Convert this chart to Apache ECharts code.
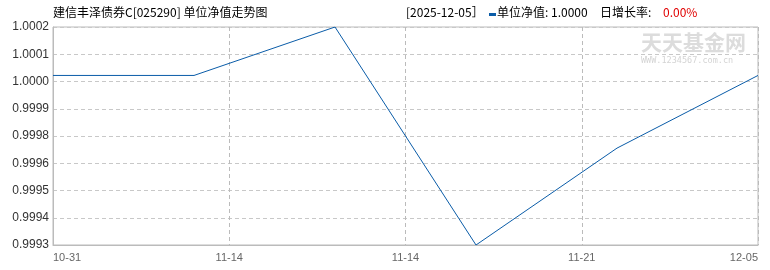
<!DOCTYPE html>
<html><head><meta charset="utf-8">
<script src="https://cdn.jsdelivr.net/npm/echarts@6/dist/echarts.min.js"></script>
<style>html,body{margin:0;padding:0;background:#fff}#c{width:770px;height:270px}</style>
</head><body><div id="c"></div>
<script>
const dates = ['10-31','11-07','11-14','11-21','11-28','12-05'];
const navValues = [1.0000, 1.0000, 1.0002, 0.9993, 0.9997, 1.0000];
const xTickLabels = ['10-31','11-14','11-14','11-21','12-05'];
const yMin = 0.9993, yMax = 1.0002, ySteps = 8;
const titleText = '建信丰泽债券C[025290] 单位净值走势图';
const legendDate = '[2025-12-05］';
const legendNav = '单位净值: 1.0000';
const legendRateLabel = '日增长率: ';
const legendRate = '0.00%';

const font = '"Noto Sans CJK SC", "Liberation Sans", sans-serif';
const chart = echarts.init(document.getElementById('c'), null, {renderer:'canvas'});
chart.setOption({
  animation:false,
  grid:{left:53, right:12, top:27, bottom:25, show:true, borderColor:'#bbb', borderWidth:1},
  graphic:[
    {type:'text', left:53, top:6, style:{text:titleText, font:'12px '+font, fill:'#000'}},
    {type:'text', left:406, top:6, style:{text:legendDate, font:'12px '+font, fill:'#000'}},
    {type:'rect', left:489, top:13, shape:{width:7, height:3}, style:{fill:'#0a5ca8'}},
    {type:'text', left:497, top:6, style:{text:legendNav, font:'12px '+font, fill:'#000'}},
    {type:'text', left:600, top:6, style:{text:legendRateLabel, font:'12px '+font, fill:'#000'}},
    {type:'text', left:663, top:6, style:{text:legendRate, font:'12px '+font, fill:'#e00000'}},
    {type:'text', left:641, top:32, style:{text:'天天基金网', font:'bold 21px '+font, fill:'#dcdcdc'}},
    {type:'text', left:641, top:56, style:{text:'WWW.1234567.com.cn', font:'8.5px "DejaVu Sans Mono", monospace', fill:'#d4d4d4'}}
  ],
  xAxis:[
    {type:'category', data:dates, boundaryGap:false, position:'top',
     axisLine:{show:false}, axisTick:{show:false}, axisLabel:{show:false}, splitLine:{show:false}},
    {type:'category', data:xTickLabels, boundaryGap:false, position:'bottom',
     axisLine:{show:true, lineStyle:{color:'#bbb'}}, axisTick:{show:false},
     axisLabel:{color:'#666', fontSize:11, fontFamily:'Liberation Sans', margin:7,
       showMinLabel:true, showMaxLabel:true, interval:0, alignMinLabel:'left', alignMaxLabel:'right'},
     splitLine:{show:true, lineStyle:{color:'#bbb', type:[4,3]}}}
  ],
  yAxis:{type:'value', min:yMin, max:yMax, interval:(yMax-yMin)/ySteps,
    axisLine:{show:true, lineStyle:{color:'#bbb'}}, axisTick:{show:false},
    axisLabel:{color:'#333', fontSize:12, fontFamily:'Liberation Sans', margin:4,
      formatter:v=>(v+1e-9).toFixed(4)},
    splitLine:{show:true, lineStyle:{color:'#c8c8c8', type:[4,3]}}},
  series:[{type:'line', xAxisIndex:0, data:navValues, symbol:'none',
    lineStyle:{color:'#0a5ca8', width:1}}]
});
</script></body></html>
